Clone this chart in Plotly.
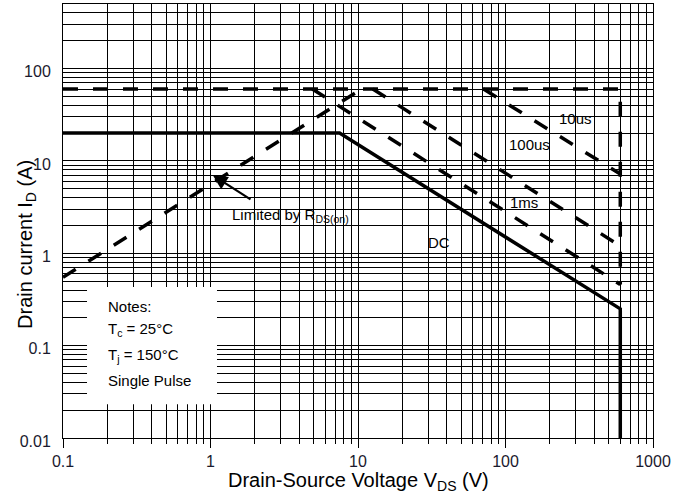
import math
import plotly.graph_objects as go

# ---- data ----
v_dc = [0.1, 7.5, 600, 600]
i_dc = [20, 20, 0.25, 0.01]
v_limit = [0.1, 600, 600]
i_limit = [60, 60, 0.46]
v_rds = [0.1, 9.7]
i_rds = [0.55, 55]
v_10us = [71, 600]
i_10us = [60, 7.2]
v_100us = [12.6, 600]
i_100us = [60, 1.2]
v_1ms = [4.9, 600]
i_1ms = [60, 0.46]

x_major = [0.1, 1, 10, 100, 1000]
x_labels = ["0.1", "1", "10", "100", "1000"]
y_major = [0.01, 0.1, 1, 10, 100]
y_labels = ["0.01", "0.1", "1", "10", "100"]

FONT = "Liberation Sans, Arial, sans-serif"
DASH = "15px,15px"
LW = 3.5


def minors(lo_exp, hi_exp, top=None):
    vals = []
    for k in range(lo_exp, hi_exp):
        for m in range(2, 10):
            v = m * 10 ** k
            if top is None or v <= top * 1.0001:
                vals.append(v)
    return vals


fig = go.Figure()

def add(x, y, dash=None):
    fig.add_trace(go.Scatter(
        x=x, y=y, mode="lines", showlegend=False, hoverinfo="skip",
        line=dict(color="black", width=LW, dash=dash if dash else "solid"),
    ))

add(v_limit, i_limit, DASH)
add(v_rds, i_rds, DASH)
add(v_10us, i_10us, DASH)
add(v_100us, i_100us, DASH)
add(v_1ms, i_1ms, DASH)
add(v_dc, i_dc)

L = math.log10

# white notes box
fig.add_shape(type="rect", xref="paper", yref="paper",
              x0=0.0407, x1=0.261, y0=0.078, y1=0.348,
              fillcolor="white", line=dict(width=0), layer="above")

ann = []
def txt(x, y, s, size=15, xanchor="center", yanchor="middle"):
    ann.append(dict(x=L(x), y=L(y), xref="x", yref="y", text=s, showarrow=False,
                    font=dict(family=FONT, size=size, color="black"),
                    xanchor=xanchor, yanchor=yanchor))

txt(296, 28.8, "10us")
txt(146, 15.1, "100us")
txt(133, 3.56, "1ms")
txt(35.4, 1.31, "DC")
txt(1.355, 2.58, "Limited by R<sub>DS(on)</sub>", xanchor="left")

txt(0.1957, 10 ** -0.573, "Notes:", xanchor="left")
txt(0.1957, 10 ** -0.82, "T<sub>c</sub> = 25°C", xanchor="left")
txt(0.1957, 10 ** -1.11, "T<sub>j</sub> = 150°C", xanchor="left")
txt(0.1957, 10 ** -1.373, "Single Pulse", xanchor="left")

# arrow
ann.append(dict(x=L(1.04), y=L(6.97), xref="x", yref="y", text="",
                showarrow=True, arrowhead=2, arrowsize=1.3, arrowwidth=2.2,
                arrowcolor="black", ax=39, ay=25, axref="pixel", ayref="pixel"))

# axis titles
ann.append(dict(x=0.5, y=-0.1, xref="paper", yref="paper", showarrow=False,
                xanchor="center", yanchor="middle",
                text="Drain-Source Voltage V<sub>DS</sub> (V)",
                font=dict(family=FONT, size=20, color="black")))
ann.append(dict(x=-0.061, y=0.445, xref="paper", yref="paper", showarrow=False,
                xanchor="center", yanchor="middle",
                text="Drain current I<sub>D</sub> (A)", textangle=-90,
                font=dict(family=FONT, size=20, color="black")))

fig.update_layout(
    width=689, height=497,
    margin=dict(l=63, r=36, t=4, b=59),
    paper_bgcolor="white", plot_bgcolor="white",
    annotations=ann,
    showlegend=False,
)

fig.update_xaxes(
    type="log", range=[L(0.1), L(1000)],
    tickmode="array", tickvals=x_major, ticktext=x_labels,
    ticks="outside", ticklen=9, tickcolor="black", tickwidth=1,
    showgrid=True, gridcolor="black", gridwidth=1,
    minor=dict(tickmode="array", tickvals=minors(-1, 3), ticks="outside",
               ticklen=5, tickcolor="black", showgrid=True,
               gridcolor="black", gridwidth=1),
    showline=True, mirror=True, linecolor="black", linewidth=1,
    tickfont=dict(family=FONT, size=16, color="#1a1a2e"),
    zeroline=False,
)
fig.update_yaxes(
    type="log", range=[L(0.01), L(500)],
    tickmode="array", tickvals=y_major, ticktext=y_labels,
    ticks="", showgrid=True, gridcolor="black", gridwidth=1,
    minor=dict(tickmode="array", tickvals=minors(-2, 3, top=500), ticks="",
               showgrid=True, gridcolor="black", gridwidth=1),
    showline=True, mirror=True, linecolor="black", linewidth=1,
    tickfont=dict(family=FONT, size=16, color="#1a1a2e"),
    ticklabelstandoff=8, ticklabelshift=3,
    zeroline=False,
)

fig.write_html("out.html", config={"displayModeBar": False},
               post_script="document.body.style.margin='0';")
